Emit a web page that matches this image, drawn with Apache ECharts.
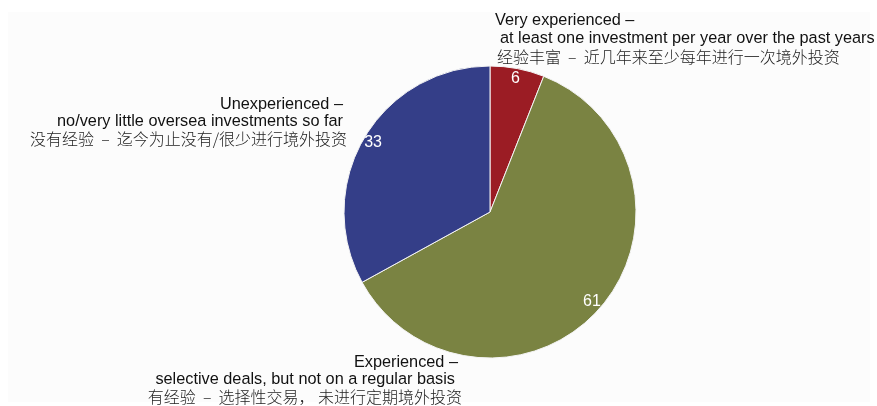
<!DOCTYPE html>
<html>
<head>
<meta charset="utf-8">
<script src="https://cdn.jsdelivr.net/npm/echarts@6/dist/echarts.min.js"></script>
<style>
  html, body { margin: 0; padding: 0; background: #ffffff; }
  #chart { width: 877px; height: 406px; }
</style>
</head>
<body>
<div id="chart"></div>
<script>
// Survey shares: overseas investment experience (percent)
const categories = ['Very experienced', 'Experienced', 'Unexperienced'];
const values = [6, 61, 33];
const sliceColors = ['#9b1c24', '#7a8342', '#343e88'];

// Category captions: English heading, English description, Chinese line
const captionLines = [
  ['Very experienced –', 'at least one investment per year over the past years', '经验丰富  –  近几年来至少每年进行一次境外投资'],
  ['Experienced –', 'selective deals, but not on a regular basis', '有经验  –  选择性交易， 未进行定期境外投资'],
  ['Unexperienced –', 'no/very little oversea investments so far', '没有经验  –  迄今为止没有/很少进行境外投资']
];

const latin = 'Liberation Sans, Arial, sans-serif';
const cjk = '"Noto Sans CJK SC", sans-serif';
const center = [490, 212];
const R = 146;

const pieData = categories.map((name, i) => ({
  name,
  value: values[i],
  itemStyle: { color: sliceColors[i] }
}));

function captionBlock(lines, x, y, align, offsets, gap) {
  return lines.map((t, k) => ({
    type: 'text',
    x: x + (offsets ? offsets[k] : 0),
    y: y + k * gap,
    silent: true,
    style: {
      text: t,
      font: (k === 2 ? '300 16px ' + cjk : '16.3px ' + latin),
      fill: k === 2 ? '#222222' : '#111111',
      align: align,
      verticalAlign: 'middle'
    }
  }));
}

const chart = echarts.init(document.getElementById('chart'), null, { renderer: 'canvas' });
chart.setOption({
  animation: false,
  backgroundColor: '#ffffff',
  graphic: [
    { type: 'rect', shape: { x: 8, y: 12, width: 862, height: 390 }, style: { fill: '#fcfcfc' }, silent: true, z: -10 },
    ...captionBlock(captionLines[0], 495, 21, 'left', [0, 5, 2], 18),
    ...captionBlock(captionLines[1], 458, 363, 'right', [0, -3, 4], 17),
    ...captionBlock(captionLines[2], 343, 105, 'right', [0, 0, 4], 17)
  ],
  series: [
    {
      type: 'pie',
      center: center,
      radius: [0, R],
      startAngle: 90,
      clockwise: true,
      data: pieData,
      label: { show: false },
      labelLine: { show: false },
      itemStyle: { borderColor: '#f4f4f4', borderWidth: 1 },
      emphasis: { disabled: true },
      silent: true
    },
    {
      // transparent ring used only to place the value labels near the rim
      type: 'pie',
      center: center,
      radius: [R * 0.82, R * 1.0],
      startAngle: 90,
      clockwise: true,
      data: pieData.map(d => ({ name: d.name, value: d.value })),
      itemStyle: { color: 'rgba(0,0,0,0)', borderWidth: 0 },
      label: {
        show: true,
        position: 'inside',
        formatter: '{c}',
        color: '#ffffff',
        fontFamily: latin,
        fontSize: 16
      },
      labelLine: { show: false },
      emphasis: { disabled: true },
      silent: true,
      z: 3
    }
  ]
});
</script>
</body>
</html>
